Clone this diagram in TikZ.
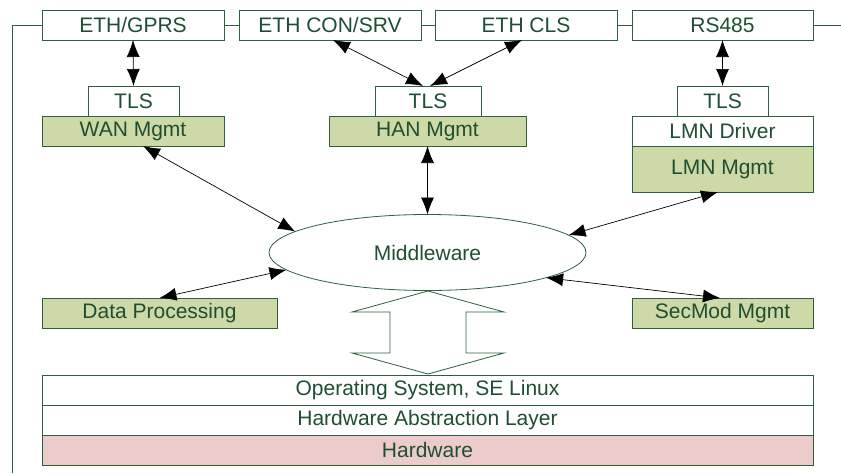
\documentclass[tikz,border=0pt]{standalone}
\usepackage{fontspec}
\setmainfont{Liberation Sans}
\usetikzlibrary{arrows.meta,shapes.geometric}
\definecolor{tcol}{HTML}{1F4F30}
\definecolor{bcol}{HTML}{2F5F3F}
\definecolor{gfill}{HTML}{CDDAA8}
\definecolor{pfill}{HTML}{ECCCCA}
\newcommand\diafont{\fontsize{21}{25}\selectfont}
\tikzset{
  box/.style={draw=bcol, line width=0.9pt, fill=white, text=tcol, font=\diafont,
    inner sep=0pt, outer sep=0pt, minimum height=30pt},
  gbox/.style={box, fill=gfill},
  link/.style={draw=bcol, line width=0.9pt},
  conn/.style={draw=black, line width=0.7pt, {Latex[length=17pt,width=13pt]}-{Latex[length=17pt,width=13pt]}},
}
\begin{document}
\begin{tikzpicture}[x=1pt,y=-1pt]
\useasboundingbox (0,0) rectangle (841,474);
% top row
\node[box, minimum width=182pt] (gprs) at (133,25) {ETH/GPRS};
\node[box, minimum width=182pt] (consrv) at (330,25) {ETH CON/SRV};
\node[box, minimum width=182pt] (cls) at (526,25) {ETH CLS};
\node[box, minimum width=181pt] (rs) at (722.5,25) {RS485};
\coordinate (lt) at (12,25);
\coordinate (lb) at (12,473);
\coordinate (rt) at (841,25);
\draw[link] (lb) -- (lt) -- (gprs.west);
\draw[link] (gprs.east) -- (consrv.west);
\draw[link] (consrv.east) -- (cls.west);
\draw[link] (cls.east) -- (rs.west);
\draw[link] (rs.east) -- (rt);
% second row
\node[box, minimum width=91pt] (tls1) at (133.5,101) {TLS};
\node[gbox, minimum width=182pt] (wan) at (133,131) {WAN Mgmt};
\node[box, minimum width=106pt] (tls2) at (428,101) {TLS};
\node[gbox, minimum width=197pt] (han) at (427.5,131) {HAN Mgmt};
\node[box, minimum width=91pt] (tls3) at (722.5,101) {TLS};
\node[box, minimum width=181pt] (lmnd) at (722.5,131) {LMN Driver};
\node[gbox, minimum width=181pt, minimum height=46pt] (lmnm) at (722.5,169) {LMN Mgmt};
% middleware
\node[ellipse, draw=bcol, line width=0.8pt, fill=white, text=tcol, font=\diafont,
  inner sep=0pt, outer sep=0pt, minimum width=317pt, minimum height=76pt] (mw) at (427.5,252.5) {Middleware};
\node[gbox, minimum width=235pt] (dp) at (159.5,313) {Data Processing};
\node[gbox, minimum width=181pt] (sec) at (722.5,313) {SecMod Mgmt};
% block double arrow
\draw[draw=bcol, line width=0.8pt, fill=white] (428,291) -- (504,312) -- (466,312) -- (466,353) -- (504,353)
  -- (428,374) -- (352,353) -- (390,353) -- (390,312) -- (352,312) -- cycle;
% bottom layers
\node[box, minimum width=771pt] (os) at (427.5,390) {Operating System, SE Linux};
\node[box, minimum width=771pt] (hal) at (427.5,420) {Hardware Abstraction Layer};
\node[box, fill=pfill, minimum width=771pt] (hw) at (427.5,450) {Hardware};
% connectors
\draw[conn] (gprs.south) -- (tls1.north);
\draw[conn] ([xshift=3pt]consrv.south) -- ([xshift=-5pt]tls2.north);
\draw[conn] ([xshift=-4pt]cls.south) -- ([xshift=2pt]tls2.north);
\draw[conn] (rs.south) -- (tls3.north);
\draw[conn] ([xshift=10pt]wan.south) -- (mw.171);
\draw[conn] (han.south) -- (mw.north);
\draw[conn] ([xshift=-4.5pt]lmnm.south) -- (mw.7);
\draw[conn] (mw.187) -- (dp.north);
\draw[conn] (mw.348) -- ([xshift=-2.5pt]sec.north);
\end{tikzpicture}
\end{document}
